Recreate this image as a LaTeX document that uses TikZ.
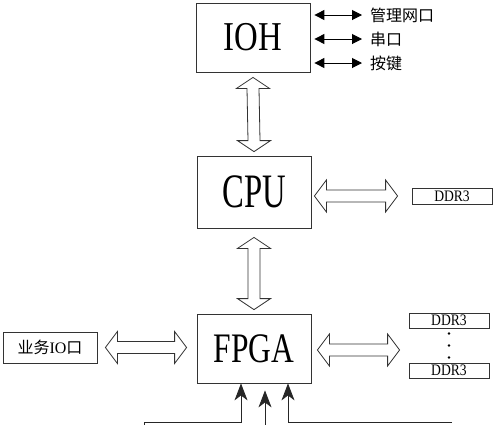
\documentclass[tikz,border=0pt]{standalone}
\usepackage{fontspec}
\usepackage{graphicx}
\setmainfont{Liberation Serif}
\newfontfamily\cjk{Noto Sans CJK SC}
\usetikzlibrary{calc,arrows.meta}
\tikzset{
  blockbox/.style={draw=black!80, line width=0.8pt, rectangle, minimum width=114pt, minimum height=70pt, inner sep=0pt},
  membox/.style={draw=black!80, line width=0.8pt, rectangle, minimum width=80pt, minimum height=15pt, inner sep=0pt, font=\fontsize{16}{16}\selectfont},
  hollow/.style={draw=black!80, line width=0.8pt, fill=white, line join=miter},
  sarrow/.style={line width=1pt, {Triangle[length=10pt,width=10pt]}-{Triangle[length=10pt,width=10pt]}},
  inarrow/.style={draw=black!85, line width=0.8pt, -{Stealth[length=17pt,width=13pt,inset=5pt]}},
  lbl/.style={inner sep=0pt, anchor=west, font=\cjk\fontsize{16}{16}\selectfont},
  dotmark/.style={circle, fill=black, inner sep=0pt, minimum size=2.6pt}
}
\newcommand\hollowV[2]{\draw[hollow] (#1) -- ++(16.5,11) -- ++(-10.5,0) -- ($(#2)+(6,-11)$) -- ++(10.5,0) -- (#2) -- ++(-16.5,-11) -- ++(10.5,0) -- ($(#1)+(-6,11)$) -- ++(-10.5,0) -- cycle;}
\newcommand\hollowH[2]{\draw[hollow] (#1) -- ++(12,-16) -- ++(0,10) -- ($(#2)+(-12,-6)$) -- ++(0,-10) -- (#2) -- ++(-12,16) -- ++(0,-10) -- ($(#1)+(12,6)$) -- ++(0,10) -- cycle;}
\begin{document}
\begin{tikzpicture}[x=1pt,y=-1pt]
\useasboundingbox (0,0) rectangle (500,424);
% main blocks
\node[blockbox, minimum height=69pt] (ioh) at (253,37.5) {\fontsize{41}{41}\selectfont\scalebox{0.8}[1]{IOH}};
\node[blockbox, minimum height=72pt] (cpu) at (254,192) {\fontsize{48}{48}\selectfont\scalebox{0.68}[1]{CPU}};
\node[blockbox, minimum height=69pt] (fpga) at (254,348.5) {\fontsize{42}{42}\selectfont\scalebox{0.75}[1]{FPGA}};
% memory and io boxes
\node[membox, minimum height=16pt] (ddr0) at (452,196) {\scalebox{0.85}[1]{DDR3}};
\node[membox] (ddra) at (449,320.5) {\scalebox{0.85}[1]{DDR3}};
\node[membox] (ddrb) at (449,370.5) {\scalebox{0.85}[1]{DDR3}};
\node[draw=black!80, line width=0.8pt, minimum width=94pt, minimum height=31pt, inner sep=0pt] (io) at (50,347.5) {\fontsize{16}{16}\selectfont{\cjk 业务}IO{\cjk 口}};
% dots
\node[dotmark] (d1) at ($(ddra.south)!0.15!(ddrb.north)$) {};
\node[dotmark] (d2) at ($(ddra.south)!0.5!(ddrb.north)$) {};
\node[dotmark] (d3) at ($(ddra.south)!0.85!(ddrb.north)$) {};
% IOH labels
\node[lbl] (l1) at (370,15) {管理网口};
\node[lbl] (l2) at (370,39) {串口};
\node[lbl] (l3) at (370,63) {按键};
\draw[sarrow] ($(ioh.east |- l1.west)+(4,0)$) -- ($(l1.west)+(-8,0)$);
\draw[sarrow] ($(ioh.east |- l2.west)+(4,0)$) -- ($(l2.west)+(-8,0)$);
\draw[sarrow] ($(ioh.east |- l3.west)+(4,0)$) -- ($(l3.west)+(-8,0)$);
% hollow arrows
\coordinate (v1t) at ($(ioh.south)+(0,5)$);
\coordinate (v1b) at ($(cpu.north)+(0,-4)$);
\hollowV{v1t}{v1b}
\coordinate (v2t) at ($(cpu.south)+(0,9)$);
\coordinate (v2b) at ($(fpga.north)+(0,-4)$);
\hollowV{v2t}{v2b}
\coordinate (h1l) at ($(cpu.east |- ddr0.west)+(3,0)$);
\coordinate (h1r) at ($(ddr0.west)+(-14,0)$);
\hollowH{h1l}{h1r}
\coordinate (h2l) at ($(io.east)+(8,0)$);
\coordinate (h2r) at ($(fpga.west |- io.east)+(-10,0)$);
\hollowH{h2l}{h2r}
\coordinate (h3l) at ($(fpga.east)+(6,1.5)$);
\coordinate (h3r) at ($(ddra.west |- fpga.east)+(-9,1.5)$);
\hollowH{h3l}{h3r}
% bottom inputs
\coordinate (bl) at (0,422);
\coordinate (b1) at (144,430);
\coordinate (b3) at (452,422);
\draw[inarrow] (b1) |- ($(fpga.south |- bl)+(-13,0)$) -- ($(fpga.south)+(-13,0)$);
\draw[inarrow] ($(fpga.south)+(11,50)$) -- ($(fpga.south)+(11,7)$);
\draw[inarrow] (b3) -- ($(fpga.south |- bl)+(34,0)$) -- ($(fpga.south)+(34,0)$);
\end{tikzpicture}
\end{document}
